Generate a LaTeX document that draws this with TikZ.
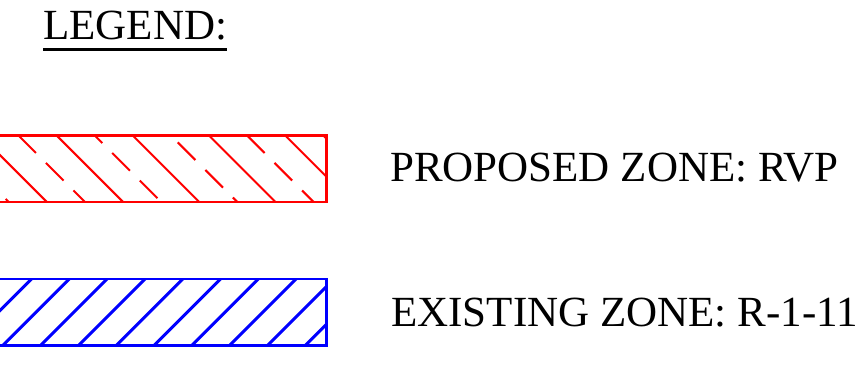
\documentclass[tikz,border=0pt]{standalone}
\usepackage{fontspec}
\setmainfont{Liberation Serif}
\begin{document}
\begin{tikzpicture}[x=1pt,y=-1pt,
  zone box/.style={rectangle,draw,line width=2.7pt,inner sep=0pt,outer sep=0pt,
  minimum width=336.7pt,minimum height=66.5pt},
  zone text/.style={font=\fontsize{43}{52}\selectfont,inner sep=0pt,anchor=base west},
  rvp hatch/.style={red,line width=2pt},
  r111 hatch/.style={blue,line width=3pt}]

  \useasboundingbox (0,0) rectangle (866,371);

  \node[zone text] (legend) at (43,39.3) {LEGEND:};
  \draw[line width=2.7pt] ([yshift=-10pt]legend.base west) -- ([yshift=-10pt]legend.base east);

  \node[zone box,red] (rvp) at (158.3,168.7) {};
  \node[zone box,blue] (r111) at (158.3,312.2) {};

  \node[zone text] (rvplabel) at (390,181.5) {PROPOSED ZONE: RVP};
  \node[zone text] (r111label) at (391,326) {EXISTING ZONE: R-1-11};

  % hatching, clipped to each box
  \begin{scope}
    \clip (rvp.south west) rectangle (rvp.north east);
    \foreach \k in {-1,1,3,5,7}
      \draw[rvp hatch] (18.3+38.1*\k,135.3) -- ++(70,70);
    \foreach \k/\ph in {-2/27,0/0,2/14,4/29,6/0,8/0}
      \draw[rvp hatch,dash pattern=on 25pt off 14pt,dash phase=\ph pt]
        (18.3+38.1*\k,135.3) -- ++(70,70);
  \end{scope}
  \begin{scope}
    \clip (r111.south west) rectangle (r111.north east);
    \foreach \k in {-2,...,9}
      \draw[r111 hatch] (3+37.8*\k,345.3) -- ++(70,-70);
  \end{scope}
\end{tikzpicture}
\end{document}
